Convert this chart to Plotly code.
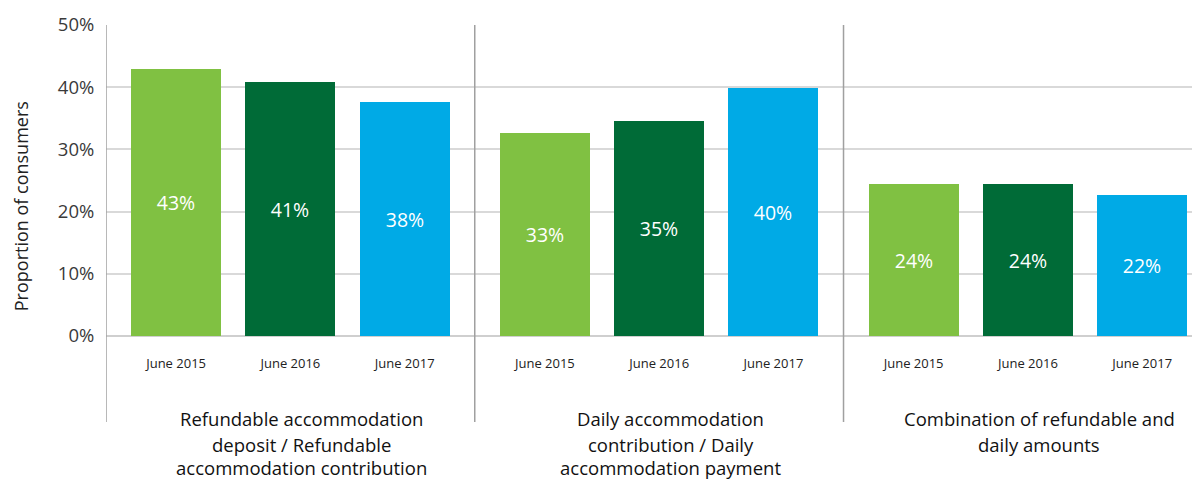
import plotly.graph_objects as go

# ---- data ----
group_lines = [
    ["Refundable accommodation", "deposit / Refundable", "accommodation contribution"],
    ["Daily accommodation", "contribution / Daily", "accommodation payment"],
    ["Combination of refundable and", "daily amounts"],
]
periods = ["June 2015", "June 2016", "June 2017"]
june_2015 = [42.9, 32.6, 24.4]
june_2016 = [40.8, 34.5, 24.4]
june_2017 = [37.6, 39.9, 22.6]
labels_2015 = ["43%", "33%", "24%"]
labels_2016 = ["41%", "35%", "24%"]
labels_2017 = ["38%", "40%", "22%"]
y_ticks = [0, 10, 20, 30, 40, 50]
y_ticktext = ["0%", "10%", "20%", "30%", "40%", "50%"]

series = [june_2015, june_2016, june_2017]
series_labels = [labels_2015, labels_2016, labels_2017]
colors = ["#80C142", "#006B37", "#00AAE6"]

GROUP_STEP = 3.227
FONT = "Open Sans"
LINE_Y = [-0.2637, -0.3473, -0.4244]

fig = go.Figure()
tickvals, ticktext = [], []
for pi, (vals, labs) in enumerate(zip(series, series_labels)):
    xs = [gi * GROUP_STEP + pi for gi in range(len(group_lines))]
    tickvals += xs
    ticktext += [periods[pi]] * len(group_lines)
    fig.add_trace(go.Bar(
        x=xs, y=vals, width=0.787, name=periods[pi],
        marker=dict(color=colors[pi], line=dict(width=0)),
        text=labs, textposition="inside", insidetextanchor="middle",
        textfont=dict(color="white", size=19.5, family=FONT),
        hoverinfo="skip",
    ))

x_left = 1 - GROUP_STEP / 2
x_right = 8.96

# separators (left axis + between groups)
for gi in range(len(group_lines)):
    xs = gi * GROUP_STEP + 1 - GROUP_STEP / 2
    fig.add_shape(type="line", xref="x", yref="paper", x0=xs, x1=xs, y0=1, y1=-0.2765,
                  line=dict(color="#a0a0a0", width=1.5), layer="above")

# group labels (one annotation per line)
for gi, lines in enumerate(group_lines):
    for li, line in enumerate(lines):
        fig.add_annotation(x=gi * GROUP_STEP + 1 + 0.1, xref="x", y=LINE_Y[li], yref="paper",
                           text=line, showarrow=False, yanchor="middle", xanchor="center",
                           font=dict(size=18.5, color="#111", family=FONT))

# y axis title
fig.add_annotation(x=-0.0775, xref="paper", y=0.418, yref="paper", text="Proportion of consumers",
                   textangle=-90, showarrow=False, xanchor="center", yanchor="middle",
                   borderpad=0,
                   font=dict(size=18, color="#222", family=FONT))

fig.update_layout(
    width=1192, height=471,
    margin=dict(l=98, r=0, t=17, b=143),
    plot_bgcolor="white", paper_bgcolor="white",
    showlegend=False, bargap=0,
    font=dict(family=FONT),
    xaxis=dict(range=[x_left, x_right], tickvals=tickvals, ticktext=ticktext,
               showgrid=False, zeroline=False, showline=False,
               ticks="outside", ticklen=15, tickcolor="rgba(0,0,0,0)",
               tickfont=dict(size=13, color="#222", family=FONT)),
    yaxis=dict(range=[0, 50], tickvals=y_ticks, ticktext=y_ticktext,
               showgrid=True, gridcolor="#d9d9d9", gridwidth=1.5,
               zeroline=True, zerolinecolor="#cfcfcf", zerolinewidth=2,
               showline=False, ticks="outside", ticklen=7, tickcolor="rgba(0,0,0,0)",
               tickfont=dict(size=18.5, color="#3a3a3a", family=FONT)),
)

fig.write_html("out.html")
